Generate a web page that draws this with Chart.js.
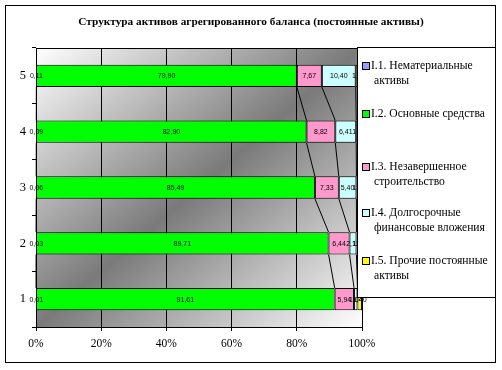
<!DOCTYPE html>
<html>
<head>
<meta charset="utf-8">
<script src="https://cdn.jsdelivr.net/npm/chart.js@4.4.0/dist/chart.umd.min.js"></script>
<style>
  html, body { margin: 0; padding: 0; background: #fff; }
  #wrap { width: 502px; height: 370px; position: relative; }
</style>
</head>
<body>
<div id="wrap"><canvas id="c"></canvas></div>
<script>
/* Структура активов — stacked 100% horizontal bars */

const TITLE = 'Структура активов агрегированного баланса (постоянные активы)';
const CATEGORIES = ['1', '2', '3', '4', '5'];
const X_STEP = 20;

const SERIES_NAMES = [
  ['I.1. Нематериальные', 'активы'],
  ['I.2. Основные средства'],
  ['I.3. Незавершенное', 'строительство'],
  ['I.4. Долгосрочные', 'финансовые вложения'],
  ['I.5. Прочие постоянные', 'активы'],
];
const SERIES_COLORS = ['#9999ff', '#00ff00', '#ff99cc', '#ccffff', '#ffff00'];

const S_INTANGIBLE = [0.01, 0.03, 0.06, 0.09, 0.11];
const S_FIXED      = [91.61, 89.71, 85.49, 82.90, 79.90];
const S_CONSTR     = [5.94, 6.44, 7.33, 8.82, 7.67];
const S_FINANCE    = [1.04, 2.12, 5.40, 6.41, 10.40];
const S_OTHER      = [1.40, 1.70, 1.72, 1.78, 1.92];

const SERIES_VALUES = [S_INTANGIBLE, S_FIXED, S_CONSTR, S_FINANCE, S_OTHER];

const SERIF = '"Liberation Serif", "Times New Roman", serif';

/* ── plugins ─────────────────────────────────────────────────── */

const plotBg = {
  id: 'plotBg',
  beforeDraw(chart) {
    const { ctx, chartArea: a } = chart;
    const w = a.right - a.left, h = a.bottom - a.top;
    // diagonal gradient: light corners TL / BR, darkest along the other diagonal
    const t = 2 * w * h / (w * w + h * h);
    const g = ctx.createLinearGradient(a.left, a.top, a.left + t * h, a.top + t * w);
    g.addColorStop(0, '#ffffff');
    g.addColorStop(0.5, '#7a7a7a');
    g.addColorStop(1, '#ffffff');
    ctx.save();
    ctx.fillStyle = '#fff';
    ctx.fillRect(0, 0, chart.width, chart.height);
    ctx.fillStyle = g;
    ctx.fillRect(a.left, a.top, w, h);
    ctx.strokeStyle = '#000';
    ctx.lineWidth = 1;
    ctx.beginPath();
    ctx.moveTo(a.left, a.top + 0.5);
    ctx.lineTo(a.right, a.top + 0.5);
    ctx.stroke();
    ctx.restore();
  },
};

const barExtras = {
  id: 'barExtras',
  afterDatasetsDraw(chart) {
    const ctx = chart.ctx;
    const metas = chart.data.datasets.map((d, i) => chart.getDatasetMeta(i));
    ctx.save();
    // series lines between neighbouring bars
    ctx.strokeStyle = '#000';
    ctx.lineWidth = 1;
    metas.slice(0, -1).forEach(meta => {
      for (let i = 0; i < meta.data.length - 1; i++) {
        const lower = meta.data[i], upper = meta.data[i + 1];
        ctx.beginPath();
        ctx.moveTo(upper.x, upper.y + upper.height / 2);
        ctx.lineTo(lower.x, lower.y - lower.height / 2);
        ctx.stroke();
      }
    });
    // value labels
    ctx.font = '7px "Liberation Sans", Arial, sans-serif';
    ctx.fillStyle = '#000';
    ctx.textAlign = 'center';
    ctx.textBaseline = 'middle';
    metas.forEach((meta, s) => {
      meta.data.forEach((el, i) => {
        const v = chart.data.datasets[s].data[i];
        ctx.fillText(v.toFixed(2).replace('.', ','), (el.x + el.base) / 2, el.y + 0.5);
      });
    });
    ctx.restore();
  },
};

const legendBox = {
  id: 'legendBox',
  afterDraw(chart) {
    const ctx = chart.ctx;
    const box = { left: 357, top: 47, right: 495, bottom: 297 };
    const itemY = [66, 114, 167, 213, 261];
    ctx.save();
    ctx.fillStyle = '#fff';
    ctx.fillRect(box.left, box.top, box.right - box.left, box.bottom - box.top);
    ctx.strokeStyle = '#000';
    ctx.lineWidth = 1;
    ctx.strokeRect(box.left + 0.5, box.top + 0.5, box.right - box.left, box.bottom - box.top);

    ctx.font = '11.6px ' + SERIF;
    ctx.textBaseline = 'middle';
    ctx.textAlign = 'left';
    SERIES_NAMES.forEach((lines, i) => {
      const y = itemY[i];
      ctx.fillStyle = SERIES_COLORS[i];
      ctx.fillRect(362.5, y - 3.5, 7, 7);
      ctx.strokeStyle = '#000';
      ctx.strokeRect(362.5, y - 3.5, 7, 7);
      ctx.fillStyle = '#000';
      lines.forEach((ln, k) => ctx.fillText(ln, k === 0 ? 371 : 374, y + k * 15));
    });

    // title
    ctx.font = 'bold 11.3px ' + SERIF;
    ctx.textAlign = 'center';
    ctx.fillText(TITLE, 251, 22);

    // outer frame
    ctx.strokeRect(5.5, 5.5, 490, 357);
    ctx.restore();
  },
};

/* ── chart ───────────────────────────────────────────────────── */

const datasets = SERIES_VALUES.map((vals, i) => ({
  label: SERIES_NAMES[i].join(' '),
  data: vals,
  backgroundColor: SERIES_COLORS[i],
  borderColor: '#000',
  borderWidth: 1,
  borderSkipped: false,
  categoryPercentage: 1,
  barPercentage: 0.4,
}));

new Chart(document.getElementById('c'), {
  type: 'bar',
  data: { labels: CATEGORIES, datasets },
  options: {
    indexAxis: 'y',
    responsive: true,
    maintainAspectRatio: false,
    animation: false,
    layout: { padding: { left: 0, right: 140, top: 48, bottom: 0 } },
    plugins: {
      legend: { display: false },
      title: { display: false },
      tooltip: { enabled: false },
    },
    scales: {
      x: {
        stacked: true,
        min: 0,
        max: 100,
        afterFit: sc => { sc.height = 43; },
        ticks: {
          stepSize: X_STEP,
          color: '#000',
          padding: 6,
          font: { family: SERIF, size: 11.5 },
          callback: v => v + '%',
        },
        grid: { color: '#000', lineWidth: 1, tickLength: 4 },
        border: { color: '#000', width: 1 },
      },
      y: {
        stacked: true,
        reverse: true,
        afterFit: sc => { sc.width = 36; },
        ticks: {
          color: '#000',
          padding: 6,
          font: { family: SERIF, size: 12.5 },
        },
        grid: { offset: true, drawOnChartArea: false, color: '#000', tickLength: 4 },
        border: { color: '#000', width: 1 },
      },
    },
  },
  plugins: [plotBg, barExtras, legendBox],
});
</script>
</body>
</html>
